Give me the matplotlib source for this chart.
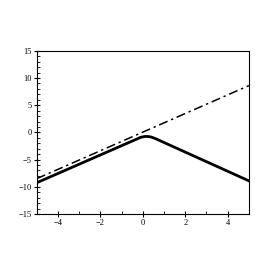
import matplotlib
matplotlib.use('Agg')
import matplotlib.pyplot as plt
from matplotlib.ticker import MultipleLocator

# recta (trazo punto-raya)
recta_x = [-5, 5]
recta_y = [-8.5, 8.6]

# curva gruesa
curva_x = [-5, -0.3, -0.1, 0.1, 0.25, 0.4, 0.6, 5]
curva_y = [-9.25, -1.25, -0.9, -0.75, -0.75, -0.85, -1.15, -8.9]

xticks = [-4, -2, 0, 2, 4]
yticks = [-15, -10, -5, 0, 5, 10, 15]

plt.rcParams['font.family'] = ['Liberation Serif', 'DejaVu Serif']

fig = plt.figure(figsize=(2.73, 2.73), dpi=100)
ax = fig.add_axes([0.1346, 0.216, 0.777, 0.598])

ax.plot(recta_x, recta_y, color='black', linewidth=1.1, dashes=(6, 2.5, 1.5, 2.5))
ax.plot(curva_x, curva_y, color='black', linewidth=2.0, solid_joinstyle='round')

ax.set_xlim(-5, 5)
ax.set_ylim(-15, 15)
ax.set_xticks(xticks)
ax.set_yticks(yticks)
ax.set_xticklabels([f'{v}'.replace('-', '\u2212') for v in xticks])
ax.set_yticklabels([f'{v}'.replace('-', '\u2212') for v in yticks])
ax.xaxis.set_minor_locator(MultipleLocator(1))
ax.yaxis.set_minor_locator(MultipleLocator(1))

ax.tick_params(axis='both', which='major', direction='inout', length=4, width=0.8,
               labelsize=6, pad=1.5, top=False, right=False)
ax.tick_params(axis='both', which='minor', direction='in', length=2, width=0.6,
               top=False, right=False)
for s in ax.spines.values():
    s.set_linewidth(0.8)

fig.savefig('out.png', dpi=100)
